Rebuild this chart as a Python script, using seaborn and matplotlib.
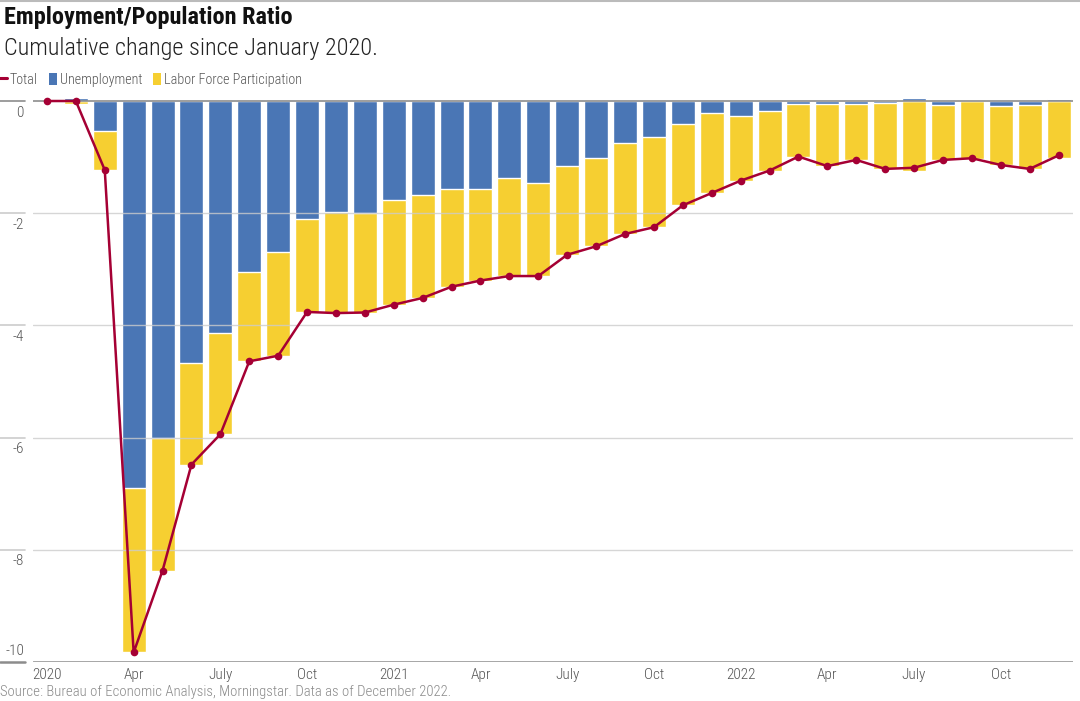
import numpy as np
import pandas as pd
import matplotlib.pyplot as plt
import seaborn as sns
from matplotlib.lines import Line2D
from matplotlib.patches import Patch
import matplotlib.transforms as mtransforms

# data (percentage points, cumulative since Jan 2020)
months = [f"{y}-{m:02d}" for y in (2020, 2021, 2022) for m in range(1, 13)]
unemployment = [0.00, 0.05, -0.53, -6.90, -6.01, -4.67, -4.14, -3.05, -2.69, -2.10, -1.98, -1.99,
                -1.76, -1.67, -1.56, -1.56, -1.38, -1.47, -1.15, -1.01, -0.75, -0.64, -0.41, -0.22,
                -0.27, -0.18, -0.05, -0.05, -0.05, -0.04, 0.05, -0.07, 0.02, -0.09, -0.07, 0.04]
participation = [0.00, -0.05, -0.70, -2.93, -2.36, -1.81, -1.80, -1.59, -1.85, -1.66, -1.80, -1.78,
                 -1.87, -1.84, -1.75, -1.64, -1.74, -1.65, -1.59, -1.58, -1.62, -1.61, -1.45, -1.42,
                 -1.15, -1.06, -0.94, -1.11, -1.00, -1.17, -1.24, -0.98, -1.04, -1.05, -1.14, -1.01]
tick_pos = [0, 3, 6, 9, 12, 15, 18, 21, 24, 27, 30, 33]
tick_labels = ["2020", "Apr", "July", "Oct", "2021", "Apr", "July", "Oct", "2022", "Apr", "July", "Oct"]
y_ticks = [0, -2, -4, -6, -8, -10]

df = pd.DataFrame({"month": months, "unemp": unemployment, "lfp": participation})
df["total"] = df["unemp"] + df["lfp"]
# yellow bar spans from 0 to the bottom of the stack, blue bar is drawn over it
df["stack_low"] = df["unemp"].clip(upper=0) + df["lfp"]
df["pos"] = np.arange(len(df))

BLUE = "#4A76B5"
YELLOW = "#F6CF31"
RED = "#A50034"
GRID = "#cccccc"
DARK = "#8c8c8c"
TXT = "#555555"

sns.set_theme(style="white")
plt.rcParams["font.family"] = ["Roboto Condensed", "DejaVu Sans"]
plt.rcParams["font.stretch"] = "condensed"

fig = plt.figure(figsize=(10.8, 7.01), dpi=100)
ax = fig.add_axes([32.5 / 1080, 39 / 701, 1040.5 / 1080, (662 - 92.6) / 701])

sns.barplot(data=df, x="month", y="stack_low", color=YELLOW, width=0.83,
            saturation=1, ax=ax, zorder=1)
sns.barplot(data=df, x="month", y="unemp", color=BLUE, width=0.83,
            saturation=1, ax=ax, zorder=1)

for v in y_ticks[1:-1]:
    ax.axhline(v, color=GRID, lw=1, alpha=0.8, zorder=2)
ax.axhline(0, color=DARK, lw=1.2, zorder=2)
ax.axhline(-10, color=DARK, lw=1.8, zorder=2)

sns.lineplot(x=df["pos"], y=df["total"], color=RED, lw=1.8, marker="o",
             markersize=5.5, markeredgewidth=0, ax=ax, zorder=4)

ax.set_xlim(-0.5, 35.5)
ax.set_ylim(-10, 0.15)
for s in ax.spines.values():
    s.set_visible(False)
ax.set_xlabel("")
ax.set_ylabel("")
ax.set_yticks([])
ax.set_xticks(tick_pos)
ax.set_xticklabels(tick_labels, fontsize=11, color=TXT, fontweight="light")
ax.tick_params(axis="x", length=0, pad=4)

# y labels sit under their grid line, with a short tick segment on the left
trans = mtransforms.blended_transform_factory(ax.transAxes, ax.transData)
x0, x1 = -32.5 / 1040.5, -7.5 / 1040.5
for v in y_ticks:
    c = DARK if v in (0, -10) else GRID
    ax.plot([x0, x1], [v, v], transform=trans, color=c, lw=1.2 if v != -10 else 1.8, clip_on=False)
    if v == -10:
        ax.text(x1 - 0.001, v + 0.08, f"{v}", transform=trans, ha="right", va="bottom",
                fontsize=11, color=TXT, fontweight="light")
    else:
        ax.text(x1 - 0.001, v - 0.08, f"{v}", transform=trans, ha="right", va="top",
                fontsize=11, color=TXT, fontweight="light")

fig.text(0.004, 0.975, "Employment/Population Ratio", fontsize=17.5, fontweight="bold",
         color="#111111", va="center")
fig.text(0.004, 0.931, "Cumulative change since January 2020.", fontsize=17.5,
         color="#222222", va="center", fontweight="light")

handles = [Line2D([0], [0], color=RED, lw=2.2),
           Patch(facecolor=BLUE, edgecolor="none"),
           Patch(facecolor=YELLOW, edgecolor="none")]
leg = fig.legend(handles, ["Total", "Unemployment", "Labor Force Participation"],
                 loc="center left", bbox_to_anchor=(-0.013, 0.886), ncol=3, frameon=False,
                 prop={"size": 10.2, "weight": "light"}, handlelength=0.6, handleheight=0.95,
                 handletextpad=0.2, columnspacing=0.75)
for t in leg.get_texts():
    t.set_color(TXT)

fig.text(0.0, 0.013, "Source: Bureau of Economic Analysis, Morningstar. Data as of December 2022.",
         fontsize=10.6, color="#8a8a8a", va="center", fontweight="light")

fig.add_artist(Line2D([0, 1], [0.999, 0.999], color="#bbbbbb", lw=1.5, transform=fig.transFigure))

fig.savefig("out.png", dpi=100)
